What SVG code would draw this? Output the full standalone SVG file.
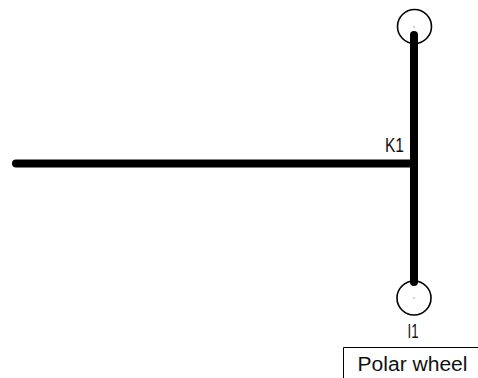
<svg xmlns="http://www.w3.org/2000/svg" width="478" height="378" viewBox="0 0 478 378">
<style>
.t{font-family:"Liberation Sans",Arial,sans-serif;font-size:20px;fill:#111}
.c{fill:none;stroke:#000;stroke-width:1.6}
.d{fill:#888}
.w{fill:none;stroke:#000;stroke-width:8;stroke-linecap:round}
</style>
<rect width="478" height="378" fill="#fff"/>
<g id="connectors">
<path class="w" d="M414 35V282"/>
<path class="w" d="M16 163.500H414"/>
</g>
<g id="top-terminal"><circle class="c" cx="414.500" cy="26.500" r="17"/><circle class="d" cx="414" cy="27" r="0.700"/></g>
<g id="bottom-terminal"><circle class="c" cx="414" cy="298" r="17"/><circle class="d" cx="414" cy="298" r="0.700"/><text class="t" x="407.500" y="338" textLength="11" lengthAdjust="spacingAndGlyphs">I1</text></g>
<g id="junction"><text class="t" x="385" y="152" textLength="19" lengthAdjust="spacingAndGlyphs">K1</text></g>
<g id="polar-wheel"><path fill="none" stroke="#000" stroke-width="1" d="M343.500 378V347.500H478"/><text class="t" x="357.500" y="371" textLength="110" lengthAdjust="spacingAndGlyphs">Polar wheel</text></g>
</svg>
